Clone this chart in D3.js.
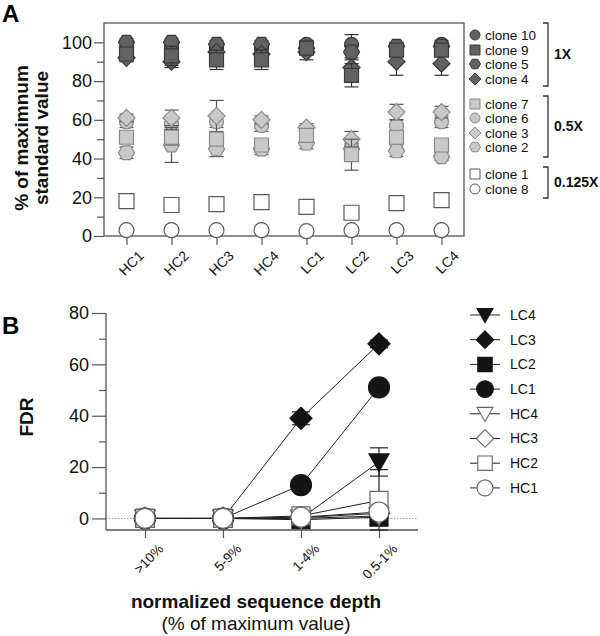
<!DOCTYPE html>
<html><head><meta charset="utf-8">
<script src="https://cdn.jsdelivr.net/npm/d3@7"></script>
<style>body{margin:0;background:#fff}svg{font-family:Arial,"Liberation Sans",sans-serif}</style>
</head><body><svg id="c" width="600" height="636"></svg>
<script>
// ---------- Panel A data ----------
const samplesA = ["HC1","HC2","HC3","HC4","LC1","LC2","LC3","LC4"];
const yTicksA = [0,20,40,60,80,100];
const clone10 = [97, 97, 97, 97, 99, 99, 97, 99];
const clone10Err = [2, 2, 2, 2, 2, 5, 2, 2];
const clone9 = [94, 93, 91, 91, 97, 83, 96, 96];
const clone9Err = [3, 5, 5, 5, 2, 6, 2, 2];
const clone5 = [100, 100, 99, 99, 97, 95, 98, 98];
const clone5Err = [2, 2, 2, 2, 2, 3, 2, 2];
const clone4 = [92, 90, 95, 94, 95, 87, 90, 89];
const clone4Err = [2, 3, 2, 2, 4, 4, 7, 6];
const clone7 = [51, 51, 50, 47, 52, 42, 51, 47];
const clone7Err = [3, 4, 3, 3, 3, 8, 3, 3];
const clone6 = [59, 58, 59, 57, 54, 46, 57, 59];
const clone6Err = [3, 3, 3, 3, 3, 3, 3, 3];
const clone3 = [61, 61, 62, 60, 56, 50, 64, 64];
const clone3Err = [2, 4, 8, 2, 2, 4, 4, 3];
const clone2 = [43, 47, 45, 45, 48, 45, 44, 41];
const clone2Err = [3, 9, 4, 3, 3, 3, 3, 2];
const clone1 = [18, 16, 16.5, 17.5, 15, 12, 17, 18.5];
const clone8 = [3, 3, 3, 3, 2.5, 3, 3, 3];
const legendA = ["clone 10","clone 9","clone 5","clone 4","clone 7","clone 6","clone 3","clone 2","clone 1","clone 8"];
const groupLabels = ["1X","0.5X","0.125X"];

// ---------- Panel B data ----------
const depthLabels = [">10%","5-9%","1-4%","0.5-1%"];
const yTicksB = [0,20,40,60,80];
const seriesB = ["LC4","LC3","LC2","LC1","HC4","HC3","HC2","HC1"];
const fdrLC4 = [0, 0, 0, 22];      const errLC4 = [0, 0, 0, 5.5];
const fdrLC3 = [0, 0, 39, 68];     const errLC3 = [0, 0, 2.5, 1.5];
const fdrLC2 = [0, 0, -0.5, 0.5];  const errLC2 = [0, 0, 0, 0];
const fdrLC1 = [0, 0, 13, 51];     const errLC1 = [0, 0, 1, 1];
const fdrHC4 = [0, 0, 0, 1];       const errHC4 = [0, 0, 0, 0];
const fdrHC3 = [0, 0, 0.3, 2];     const errHC3 = [0, 0, 0, 0];
const fdrHC2 = [0, 0, 1, 7];       const errHC2 = [0, 0, 0.5, 12];
const fdrHC1 = [0, 0, 0.5, 2.5];   const errHC1 = [0, 0, 0, 0];

// ---------- custom symbol types (size = width in px) ----------
const sym = {
  circle:{draw(c,s){const r=s/2;c.moveTo(r,0);c.arc(0,0,r,0,2*Math.PI);c.closePath();}},
  square:{draw(c,s){const r=s/2;c.rect(-r,-r,s,s);}},
  diamond:{draw(c,s){const r=s/2;c.moveTo(0,-r);c.lineTo(r,0);c.lineTo(0,r);c.lineTo(-r,0);c.closePath();}},
  hexagon:{draw(c,s){const r=s/2,h=r*0.866;c.moveTo(r,0);c.lineTo(r/2,h);c.lineTo(-r/2,h);c.lineTo(-r,0);c.lineTo(-r/2,-h);c.lineTo(r/2,-h);c.closePath();}},
  triDown:{draw(c,s){const r=s/2;c.moveTo(-r,-r*0.8);c.lineTo(r,-r*0.8);c.lineTo(0,r*0.95);c.closePath();}}
};

const svg = d3.select("#c");
const axisCol = "#555";

// ================= PANEL A =================
const xA = d3.scalePoint().domain(samplesA).range([104,464]).padding(0.5);
const yA = d3.scaleLinear().domain([0,110]).range([236,23]);
const gA = svg.append("g");

const styles = {
  dark:{fill:"#626262",stroke:"#3a3a3a",err:"#333"},
  light:{fill:"#c9c9c9",stroke:"#8a8a8a",err:"#555"},
  white:{fill:"#fff",stroke:"#5a5a5a",err:"#555"}
};
// draw order (bottom to top)
const clonesA = [
  {vals:clone10, err:clone10Err, shape:"circle", g:"dark", size:14},
  {vals:clone5, err:clone5Err, shape:"hexagon", g:"dark", size:16},
  {vals:clone4, err:clone4Err, shape:"diamond", g:"dark", size:17},
  {vals:clone9, err:clone9Err, shape:"square", g:"dark", size:14},
  {vals:clone6, err:clone6Err, shape:"circle", g:"light", size:14},
  {vals:clone2, err:clone2Err, shape:"hexagon", g:"light", size:16},
  {vals:clone3, err:clone3Err, shape:"diamond", g:"light", size:17},
  {vals:clone7, err:clone7Err, shape:"square", g:"light", size:14},
  {vals:clone1, err:null, shape:"square", g:"white", size:15},
  {vals:clone8, err:null, shape:"circle", g:"white", size:15}
];

// axes
gA.append("g").attr("transform","translate(104,0)")
  .call(d3.axisLeft(yA).tickValues(yTicksA).tickSize(10).tickPadding(2))
  .call(g=>{g.select(".domain").remove();g.selectAll("line").attr("stroke",axisCol).attr("stroke-width",1.2);
    g.selectAll("text").attr("font-size",18).attr("fill","#111").attr("font-family","Arial, Liberation Sans, sans-serif");});
gA.append("g").attr("transform","translate(104,0)")
  .call(d3.axisLeft(yA).tickValues([10,30,50,70,90]).tickSize(7).tickFormat(""))
  .call(g=>{g.select(".domain").remove();g.selectAll("line").attr("stroke",axisCol).attr("stroke-width",1.2);});
gA.append("g").attr("transform","translate(0,236)")
  .call(d3.axisBottom(xA).tickSize(9).tickPadding(4))
  .call(g=>{g.select(".domain").remove();g.selectAll("line").attr("stroke",axisCol).attr("stroke-width",1.2);
    g.selectAll("text").attr("font-size",14).attr("fill","#111").attr("font-family","Arial, Liberation Sans, sans-serif")
     .style("text-anchor","end").attr("dy","0.35em").attr("transform","translate(5,8) rotate(-45)");});
gA.append("rect").attr("x",104).attr("y",23).attr("width",360).attr("height",213)
  .attr("fill","none").attr("stroke",axisCol).attr("stroke-width",1.3);

// error bars + markers
clonesA.forEach(cl=>{
  const st = styles[cl.g];
  const g = gA.append("g");
  if(cl.err){
    samplesA.forEach((s,i)=>{
      const x = xA(s), lo = yA(cl.vals[i]-cl.err[i]), hi = yA(cl.vals[i]+cl.err[i]);
      g.append("line").attr("x1",x).attr("x2",x).attr("y1",lo).attr("y2",hi).attr("stroke",st.err).attr("stroke-width",1.2);
      [lo,hi].forEach(yy=>g.append("line").attr("x1",x-7).attr("x2",x+7).attr("y1",yy).attr("y2",yy).attr("stroke",st.err).attr("stroke-width",1.2));
    });
  }
  g.selectAll("path.m").data(cl.vals).join("path").attr("class","m")
    .attr("d", d3.symbol(sym[cl.shape], cl.size))
    .attr("transform",(d,i)=>`translate(${xA(samplesA[i])},${yA(d)})`)
    .attr("fill",st.fill).attr("stroke",st.stroke).attr("stroke-width",1.2);
});

// legend A
const legShapes = ["circle","square","hexagon","diamond","square","circle","diamond","hexagon","square","circle"];
const legGroups = ["dark","dark","dark","dark","light","light","light","light","white","white"];
const legY = [35,50,64,79,104,118,133,147,174,189];
const legSizes = {circle:10,square:10,hexagon:11,diamond:12};
legendA.forEach((t,i)=>{
  const st = styles[legGroups[i]];
  gA.append("path").attr("d",d3.symbol(sym[legShapes[i]],legSizes[legShapes[i]]))
    .attr("transform",`translate(475,${legY[i]})`).attr("fill",st.fill).attr("stroke",st.stroke).attr("stroke-width",1);
  gA.append("text").attr("x",485).attr("y",legY[i]).attr("dy","0.35em").attr("font-size",13.5).attr("fill","#111").text(t);
});
// brackets
const brackets = [[23,86],[96,157],[167,198]];
brackets.forEach((b,i)=>{
  gA.append("path").attr("d",`M543,${b[0]}H548V${b[1]}H543`).attr("fill","none").attr("stroke","#333").attr("stroke-width",1.3);
  gA.append("text").attr("x",554).attr("y",(b[0]+b[1])/2).attr("dy","0.35em").attr("font-size",14).attr("font-weight","bold").attr("fill","#111").text(groupLabels[i]);
});
// titles
svg.append("text").attr("x",2).attr("y",22).attr("font-size",24).attr("font-weight","bold").text("A");
const yt = svg.append("text").attr("transform","translate(28,138) rotate(-90)").attr("text-anchor","middle").attr("font-size",19).attr("font-weight","bold").attr("fill","#111");
yt.append("tspan").attr("x",0).attr("dy",0).text("% of maximnum");
yt.append("tspan").attr("x",0).attr("dy",20).text("standard value");

// ================= PANEL B =================
const xB = d3.scalePoint().domain(depthLabels).range([106,418]).padding(0.5);
const yB = d3.scaleLinear().domain([-4.5,80]).range([530,313]);
const gB = svg.append("g");

gB.append("g").attr("transform","translate(106,0)")
  .call(d3.axisLeft(yB).tickValues(yTicksB).tickSize(14).tickPadding(3))
  .call(g=>{g.select(".domain").remove();g.selectAll("line").attr("stroke",axisCol).attr("stroke-width",1.2);
    g.selectAll("text").attr("font-size",18).attr("fill","#111").attr("font-family","Arial, Liberation Sans, sans-serif");});
gB.append("g").attr("transform","translate(106,0)")
  .call(d3.axisLeft(yB).tickValues([10,30,50,70]).tickSize(7).tickFormat(""))
  .call(g=>{g.select(".domain").remove();g.selectAll("line").attr("stroke",axisCol).attr("stroke-width",1.2);});
gB.append("g").attr("transform","translate(0,530)")
  .call(d3.axisBottom(xB).tickSize(8).tickPadding(4))
  .call(g=>{g.select(".domain").remove();g.selectAll("line").attr("stroke",axisCol).attr("stroke-width",1.2);
    g.selectAll("text").attr("font-size",13.5).attr("fill","#111").attr("font-family","Arial, Liberation Sans, sans-serif")
     .style("text-anchor","end").attr("dy","0.35em").attr("transform","translate(7,8) rotate(-45)");});
gB.append("line").attr("x1",106).attr("x2",106).attr("y1",yB(80)).attr("y2",530).attr("stroke",axisCol).attr("stroke-width",1.3);
gB.append("line").attr("x1",106).attr("x2",418).attr("y1",530).attr("y2",530).attr("stroke",axisCol).attr("stroke-width",1.3);
gB.append("line").attr("x1",106).attr("x2",418).attr("y1",yB(0)).attr("y2",yB(0)).attr("stroke","#888").attr("stroke-width",0.8).attr("stroke-dasharray","1.5,1.5");

const black = {fill:"#141414",stroke:"#141414"};
const white = {fill:"#fff",stroke:"#666"};
const specB = [
  {name:"LC4",vals:fdrLC4,err:errLC4,shape:"triDown",size:20,st:black},
  {name:"LC3",vals:fdrLC3,err:errLC3,shape:"diamond",size:22,st:black},
  {name:"LC2",vals:fdrLC2,err:errLC2,shape:"square",size:18,st:black},
  {name:"LC1",vals:fdrLC1,err:errLC1,shape:"circle",size:21,st:black},
  {name:"HC4",vals:fdrHC4,err:errHC4,shape:"triDown",size:20,st:white},
  {name:"HC3",vals:fdrHC3,err:errHC3,shape:"diamond",size:22,st:white},
  {name:"HC2",vals:fdrHC2,err:errHC2,shape:"square",size:18,st:white},
  {name:"HC1",vals:fdrHC1,err:errHC1,shape:"circle",size:20,st:white}
];
const line = d3.line().x((d,i)=>xB(depthLabels[i])).y(d=>yB(d));
specB.forEach(s=>{
  gB.append("path").attr("d",line(s.vals)).attr("fill","none").attr("stroke","#222").attr("stroke-width",1);
});
specB.forEach(s=>{
  s.vals.forEach((v,i)=>{
    if(!s.err[i]) return;
    const x = xB(depthLabels[i]), lo = yB(Math.max(-4.5,v-s.err[i])), hi = yB(v+s.err[i]);
    gB.append("line").attr("x1",x).attr("x2",x).attr("y1",lo).attr("y2",hi).attr("stroke","#222").attr("stroke-width",1.2);
    [lo,hi].forEach(yy=>gB.append("line").attr("x1",x-9).attr("x2",x+9).attr("y1",yy).attr("y2",yy).attr("stroke","#222").attr("stroke-width",1.2));
  });
});
specB.forEach(s=>{
  gB.append("g").selectAll("path").data(s.vals).join("path")
    .attr("d",d3.symbol(sym[s.shape],s.size))
    .attr("transform",(d,i)=>`translate(${xB(depthLabels[i])},${yB(d)})`)
    .attr("fill",s.st.fill).attr("stroke",s.st.stroke).attr("stroke-width",1.2);
});
// legend B
specB.forEach((s,i)=>{
  const y = 315 + i*24.7;
  gB.append("line").attr("x1",470).attr("x2",500).attr("y1",y).attr("y2",y).attr("stroke","#222").attr("stroke-width",1);
  gB.append("path").attr("d",d3.symbol(sym[s.shape],s.size*0.8)).attr("transform",`translate(485,${y})`)
    .attr("fill",s.st.fill).attr("stroke",s.st.stroke).attr("stroke-width",1.1);
  gB.append("text").attr("x",510).attr("y",y).attr("dy","0.35em").attr("font-size",14).attr("fill","#111").text(s.name);
});
svg.append("text").attr("x",2).attr("y",334).attr("font-size",24).attr("font-weight","bold").text("B");
svg.append("text").attr("transform","translate(33,417) rotate(-90)").attr("text-anchor","middle").attr("font-size",19).attr("font-weight","bold").attr("fill","#111").text("FDR");
svg.append("text").attr("x",256).attr("y",608).attr("text-anchor","middle").attr("font-size",19).attr("font-weight","bold").attr("fill","#111").text("normalized sequence depth");
svg.append("text").attr("x",256).attr("y",630).attr("text-anchor","middle").attr("font-size",19).attr("fill","#111").text("(% of maximum value)");
</script></body></html>
